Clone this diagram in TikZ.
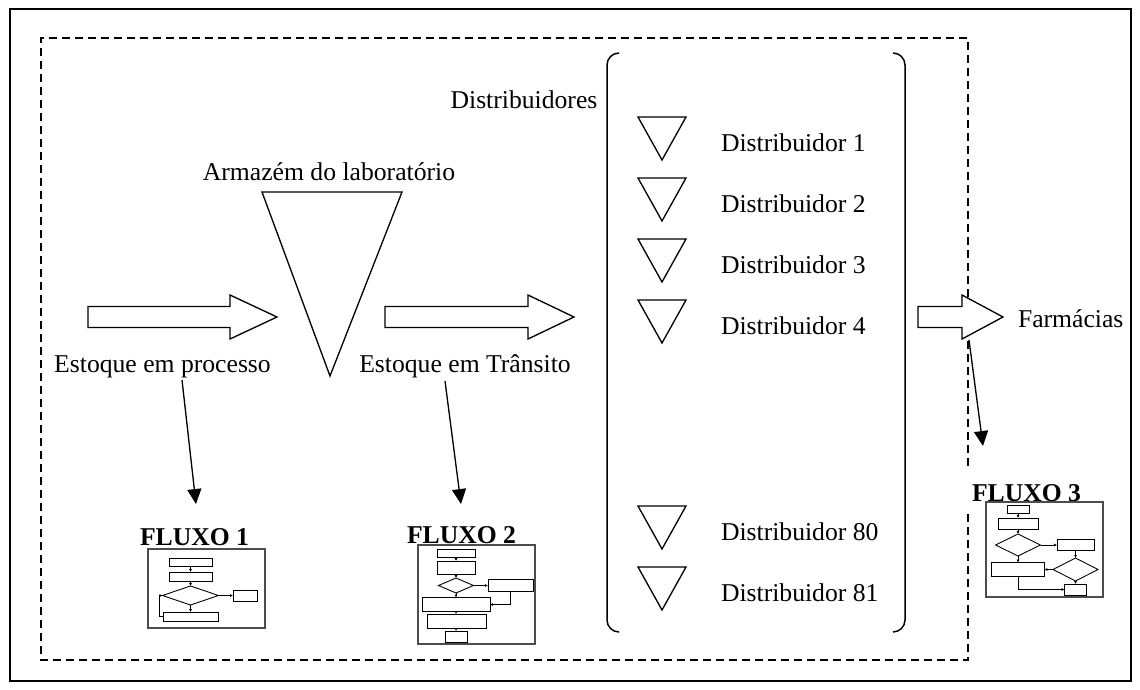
\documentclass[tikz,border=0pt]{standalone}
\usepackage{fontspec}
\setmainfont{Liberation Serif}
\usetikzlibrary{arrows.meta,shapes.geometric}
\begin{document}
\begin{tikzpicture}[x=0.02cm,y=-0.02cm,
  every node/.style={inner sep=0pt, outer sep=0pt, font=\fontsize{14.6}{17}\selectfont},
  lbl/.style={anchor=base},
  dlbl/.style={anchor=base west},
  flux/.style={anchor=base west, font=\fontsize{14.6}{17}\selectfont\bfseries},
  blockarrow/.style={draw=black, line width=0.75pt, fill=white, line join=miter},
  tri/.style={draw=black, line width=0.75pt, line join=miter},
  thinarrow/.style={draw=black, line width=0.75pt, -{Triangle[length=8.5pt,width=8pt]}},
  dashbox/.style={draw=black, line width=0.85pt, dash pattern=on 4.5pt off 2.9pt},
  brk/.style={draw=black, line width=0.85pt, rounded corners=0.24cm},
  frame/.style={draw=black!70, line width=0.7pt},
  mr/.style 2 args={draw=black, line width=0.5pt, rectangle, minimum width=#1*0.02cm, minimum height=#2*0.02cm},
  md/.style 2 args={draw=black, line width=0.5pt, diamond, minimum width=#1*0.02cm, minimum height=#2*0.02cm},
  mc/.style={draw=black, line width=0.5pt, -{Latex[length=1.6pt,width=1.6pt]}},
]
\useasboundingbox (0,0) rectangle (1140,690);
% outer frame
\draw[line width=1.1pt] (10,9) rectangle (1131,681);
% dashed boundary with gap on the right
\draw[dashbox] (968,466) -- (968,38) -- (41,38) -- (41,660) -- (968,660) -- (968,510);

% block arrows
\draw[blockarrow] (88,306.5) -- (230,306.5) -- (230,295) -- (277,317) -- (230,339) -- (230,327.5) -- (88,327.5) -- cycle;
\draw[blockarrow] (385,306.5) -- (528,306.5) -- (528,295) -- (574,317) -- (528,339) -- (528,327.5) -- (385,327.5) -- cycle;
\draw[blockarrow] (918,306.5) -- (962,306.5) -- (962,295) -- (1003,317) -- (962,339) -- (962,327.5) -- (918,327.5) -- cycle;

% warehouse triangle
\draw[tri] (262,192) -- (402,192) -- (330,376) -- cycle;
\node[lbl] (armazem) at (329,180) {Armazém do laboratório};
\node[lbl] (estproc) at (162.5,372) {Estoque em processo};
\node[lbl] (esttrans) at (465,372) {Estoque em Trânsito};
\node[lbl] (distribs) at (524,108) {Distribuidores};
\node[dlbl] (farm) at (1018,327) {Farmácias};

% bracket
\draw[brk] (619,53) -- (607,53) -- (607,632) -- (619,632);
\draw[brk] (893,53) -- (905,53) -- (905,632) -- (893,632);

% distributors
\foreach \b/\t/\n in {151/Distribuidor 1/d1, 212/Distribuidor 2/d2, 273/Distribuidor 3/d3, 334/Distribuidor 4/d4, 540/Distribuidor 80/d80, 601/Distribuidor 81/d81}{
  \draw[tri] (638,\b-34) -- (686,\b-34) -- (662,\b+9) -- cycle;
  \node[dlbl] (\n) at (721,\b) {\t};
}

% thin arrows
\coordinate (a1s) at (182,380);
\coordinate (a1e) at (196,504);
\coordinate (a2s) at (445,381);
\coordinate (a2e) at (461,504);
\coordinate (a3s) at (969,340);
\coordinate (a3e) at (983,446);
\draw[thinarrow] (a1s) -- (a1e);
\draw[thinarrow] (a2s) -- (a2e);
\draw[thinarrow] (a3s) -- (a3e);

% FLUXO labels
\node[flux] (fl1) at (140,545) {FLUXO 1};
\node[flux] (fl2) at (407,543) {FLUXO 2};
\node[flux] (fl3) at (972,501) {FLUXO 3};

% ---- mini flowchart 1
\draw[frame] (148,549) rectangle (265,628);
\node[mr={43}{8}] (f1a) at (190.5,562) {};
\node[mr={43}{9}] (f1b) at (190.5,576.5) {};
\node[md={56}{19}] (f1d) at (190.5,595.5) {};
\node[mr={24}{11}] (f1s) at (245,595.5) {};
\node[mr={55}{9}] (f1c) at (190.5,616.5) {};
\draw[mc] (f1a) -- (f1b);
\draw[mc] (f1b) -- (f1d);
\draw[mc] (f1d.east) -- (f1s.west);
\draw[mc] (f1d.south) -- (f1c.north);
\draw[mc] (f1c.west) -- ++(-4,0) |- (f1d.west);

% ---- mini flowchart 2
\draw[frame] (418,545) rectangle (535,644);
\node[mr={38}{8}] (f2a) at (456,553) {};
\node[mr={38}{13}] (f2b) at (456,567.5) {};
\node[md={35}{15}] (f2d) at (456,585.5) {};
\node[mr={45}{12}] (f2s) at (510.5,585.5) {};
\node[mr={68}{14}] (f2c) at (456,604.5) {};
\node[mr={59}{14}] (f2e) at (456.5,621) {};
\node[mr={22}{11}] (f2f) at (456,636.5) {};
\draw[mc] (f2a) -- (f2b);
\draw[mc] (f2b) -- (f2d);
\draw[mc] (f2d.east) -- (f2s.west);
\draw[mc] (f2d.south) -- (f2c.north);
\draw[mc] (f2s.south) |- (f2c.east);
\draw[mc] (f2c.south) -- (f2e.north -| f2c.south);
\draw[mc] (f2e.south -| f2f.north) -- (f2f.north);

% ---- mini flowchart 3
\draw[frame] (986,502) rectangle (1103,597);
\node[mr={22}{8}] (f3a) at (1018,509) {};
\node[mr={40}{11}] (f3b) at (1018,523.5) {};
\node[md={45}{22}] (f3d) at (1018,545) {};
\node[mr={37}{11}] (f3s) at (1075.5,545) {};
\node[md={45}{23}] (f3e) at (1075.5,569.5) {};
\node[mr={53}{14}] (f3c) at (1018,569.5) {};
\node[mr={22}{11}] (f3f) at (1075.5,589.5) {};
\draw[mc] (f3a) -- (f3b);
\draw[mc] (f3b) -- (f3d);
\draw[mc] (f3d.east) -- (f3s.west);
\draw[mc] (f3s.south) -- (f3e.north);
\draw[mc] (f3d.south) -- (f3c.north);
\draw[mc] (f3e.west) -- (f3c.east);
\draw[mc] (f3e.south) -- (f3f.north);
\draw[mc] (f3c.south) |- (f3f.west);
\end{tikzpicture}
\end{document}
